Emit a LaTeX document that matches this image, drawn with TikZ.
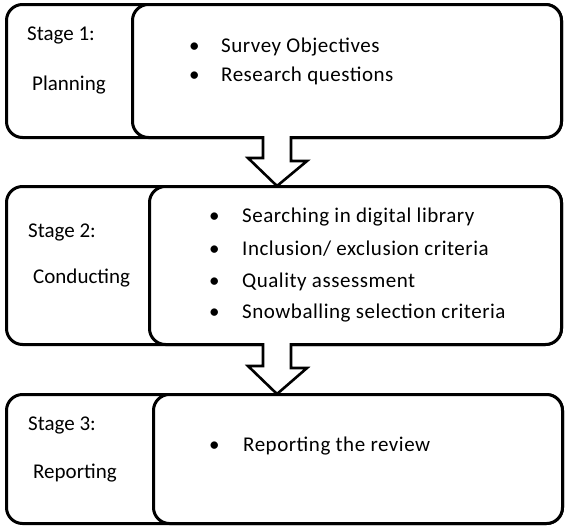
\documentclass[tikz,border=0pt]{standalone}
\usepackage{fontspec}
\setmainfont{Carlito}
\begin{document}
\begin{tikzpicture}[x=1pt,y=-1pt,
  frame/.style={draw=black,line width=3pt,rounded corners=16pt,fill=white,inner sep=0pt,anchor=north west},
  lbl/.style={anchor=west,inner sep=0pt,font=\fontsize{21}{24}\selectfont},
  itm/.style={anchor=west,inner sep=0pt,font=\fontsize{21}{24}\selectfont\addfontfeature{LetterSpace=2.5}},
  blockarrow/.style={draw=black,line width=2.6pt,fill=white,line join=miter}]
\useasboundingbox (0,0) rectangle (565,528);
% Stage 1
\node[frame,minimum width=555pt,minimum height=133pt] (o1) at (5,3) {};
\node[frame,minimum width=429pt,minimum height=133pt] (i1) at (131,3) {};
\node[lbl] (s1) at (27,35) {Stage 1:};
\node[lbl] (p1) at (32,85) {Planning};
\node[itm] (b11) at (189,47) {\makebox[32pt][l]{•}Survey Objectives};
\node[itm] (b12) at (189,76) {\makebox[32pt][l]{•}Research questions};
% Stage 2
\node[frame,minimum width=555pt,minimum height=158pt] (o2) at (5,185) {};
\node[frame,minimum width=412pt,minimum height=158pt] (i2) at (148,185) {};
\node[lbl] (s2) at (28,232) {Stage 2:};
\node[lbl] (p2) at (33,278) {Conducting};
\node[itm] (b21) at (209,217) {\makebox[33pt][l]{•}Searching in digital library};
\node[itm] (b22) at (209,249) {\makebox[33pt][l]{•}Inclusion/ exclusion criteria};
\node[itm] (b23) at (209,282) {\makebox[33pt][l]{•}Quality assessment};
\node[itm] (b24) at (209,313) {\makebox[33pt][l]{•}Snowballing selection criteria};
% Stage 3
\node[frame,minimum width=556pt,minimum height=129pt] (o3) at (5,393) {};
\node[frame,minimum width=409pt,minimum height=129pt] (i3) at (152,393) {};
\node[lbl] (s3) at (28,425) {Stage 3:};
\node[lbl] (p3) at (33,473) {Reporting};
\node[itm] (b31) at (209,446) {\makebox[34pt][l]{•}Reporting the review};
% arrows
\coordinate (a1) at (277,136);
\coordinate (a2) at (277,343);
\draw[blockarrow] ([xshift=-14pt]a1) -- ++(0,22) -- ++(-15,0) -- ([yshift=-1pt]o2.north -| a1) -- ++(30,-25) -- ++(-16,0) -- ([xshift=14pt]a1);
\draw[blockarrow] ([xshift=-14pt]a2) -- ++(0,23) -- ++(-15,0) -- ([yshift=-1pt]o3.north -| a2) -- ++(30,-26) -- ++(-16,0) -- ([xshift=14pt]a2);
\end{tikzpicture}
\end{document}
